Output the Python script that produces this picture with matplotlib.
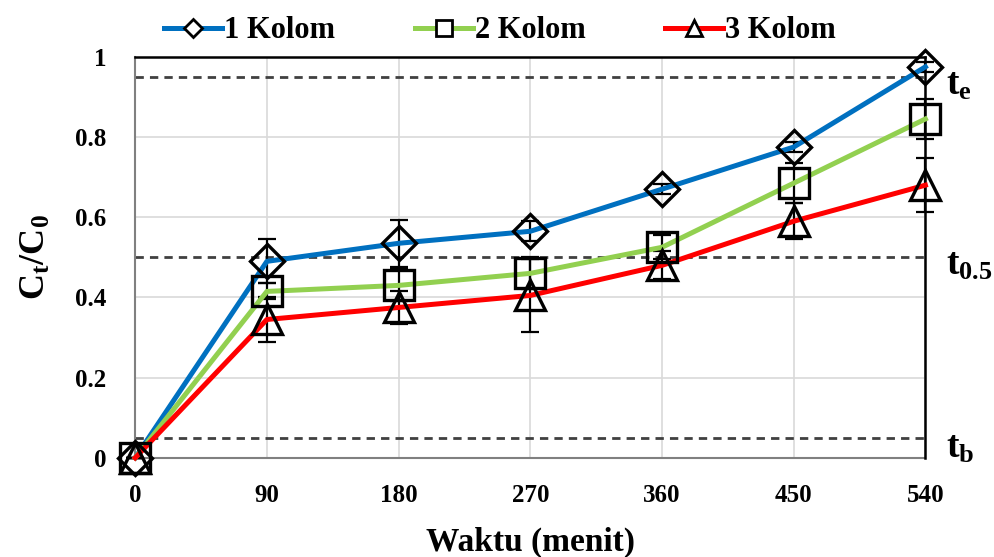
import matplotlib
matplotlib.use("Agg")
import matplotlib.pyplot as plt

# ---- data ----
waktu = [0, 90, 180, 270, 360, 450, 540]
kolom1 = [0.0, 0.49, 0.535, 0.565, 0.67, 0.775, 0.975]
kolom2 = [0.0, 0.415, 0.43, 0.46, 0.525, 0.685, 0.845]
kolom3 = [0.0, 0.345, 0.375, 0.405, 0.48, 0.59, 0.68]
err1 = [0.0, 0.055, 0.058, 0.025, 0.012, 0.012, 0.012]
err2 = [0.0, 0.02, 0.04, 0.04, 0.03, 0.05, 0.05]
err3 = [0.0, 0.057, 0.04, 0.09, 0.035, 0.045, 0.068]
labels = ["1 Kolom", "2 Kolom", "3 Kolom"]
ref_levels = [0.95, 0.5, 0.05]
ref_names = [r"$\mathbf{t_e}$", r"$\mathbf{t_{0.5}}$", r"$\mathbf{t_b}$"]
xticks = [0, 90, 180, 270, 360, 450, 540]
yticks = [0, 0.2, 0.4, 0.6, 0.8, 1]
ytick_labels = ["0", "0.2", "0.4", "0.6", "0.8", "1"]

plt.rcParams["font.family"] = ["Liberation Serif", "DejaVu Serif"]
plt.rcParams["font.weight"] = "bold"
plt.rcParams["mathtext.fontset"] = "custom"
plt.rcParams["mathtext.rm"] = "Liberation Serif:bold"
plt.rcParams["mathtext.bf"] = "Liberation Serif:bold"
plt.rcParams["mathtext.it"] = "Liberation Serif:bold"

fig = plt.figure(figsize=(9.94, 5.57), dpi=100)
ax = fig.add_axes([0.136, 0.178, 0.795, 0.72])

colors = ["#0070C0", "#92D050", "#FF0000"]
markers = ["D", "s", "^"]
msizes = [17, 22, 22]
series = [kolom1, kolom2, kolom3]
errs = [err1, err2, err3]

for lvl in ref_levels:
    ax.plot([0, 540], [lvl, lvl], ls=(0, (3, 2.2)), color="#404040", lw=2, zorder=2)

handles = []
for s, e, c, m, ms, lab in zip(series, errs, colors, markers, msizes, labels):
    ax.errorbar(waktu, s, yerr=e, fmt="none", ecolor="black", elinewidth=1.6,
                capsize=6.5, capthick=1.6, zorder=3, clip_on=False)
    ax.plot(waktu, s, color=c, lw=3.6, zorder=4, clip_on=False)
    ax.plot(waktu, s, ls="none", marker=m, ms=ms, mfc="none", mec="black",
            mew=2.4, zorder=5, clip_on=False)
    h, = ax.plot([], [], color=c, lw=3.6, marker=m, ms=ms * 0.55, mfc="white",
                 mec="black", mew=2, label=lab)
    handles.append(h)

# frame: top and right black lines
ax.plot([0, 540], [1, 1], color="black", lw=1.8, zorder=3, clip_on=False)
ax.plot([540, 540], [0, 1], color="black", lw=1.8, zorder=3, clip_on=False)

ax.set_xlim(0, 540)
ax.set_ylim(0, 1)
ax.set_xticks(xticks)
ax.set_xticklabels([str(v) for v in xticks])
ax.set_yticks(yticks)
ax.set_yticklabels(ytick_labels)
ax.grid(True, color="#d9d9d9", lw=1.2, zorder=0)
ax.set_axisbelow(True)
for side in ["top", "right"]:
    ax.spines[side].set_visible(False)
for side in ["left", "bottom"]:
    ax.spines[side].set_color("#808080")
    ax.spines[side].set_linewidth(1.5)
ax.tick_params(axis="x", length=0, labelsize=18, pad=19)
ax.tick_params(axis="y", length=0, labelsize=18, pad=21)
for t in ax.get_xticklabels() + ax.get_yticklabels():
    t.set_fontweight("bold")

ax.set_xlabel("Waktu (menit)", fontsize=24, fontweight="bold", labelpad=14)
ax.set_ylabel(r"$\mathbf{C_t/C_0}$", fontsize=26, labelpad=16)

offsets = [-0.02, -0.02, -0.025]
for lvl, nm, off in zip(ref_levels, ref_names, offsets):
    ax.text(554, lvl + off, nm, fontsize=27, va="center", ha="left", clip_on=False)

fig.legend(handles=handles, loc="upper center", bbox_to_anchor=(0.503, 1.02), ncol=3,
           frameon=False, handlelength=1.9, columnspacing=2.6,
           handletextpad=0.07, prop={"weight": "bold", "size": 22})

fig.savefig("out.png", dpi=100)
